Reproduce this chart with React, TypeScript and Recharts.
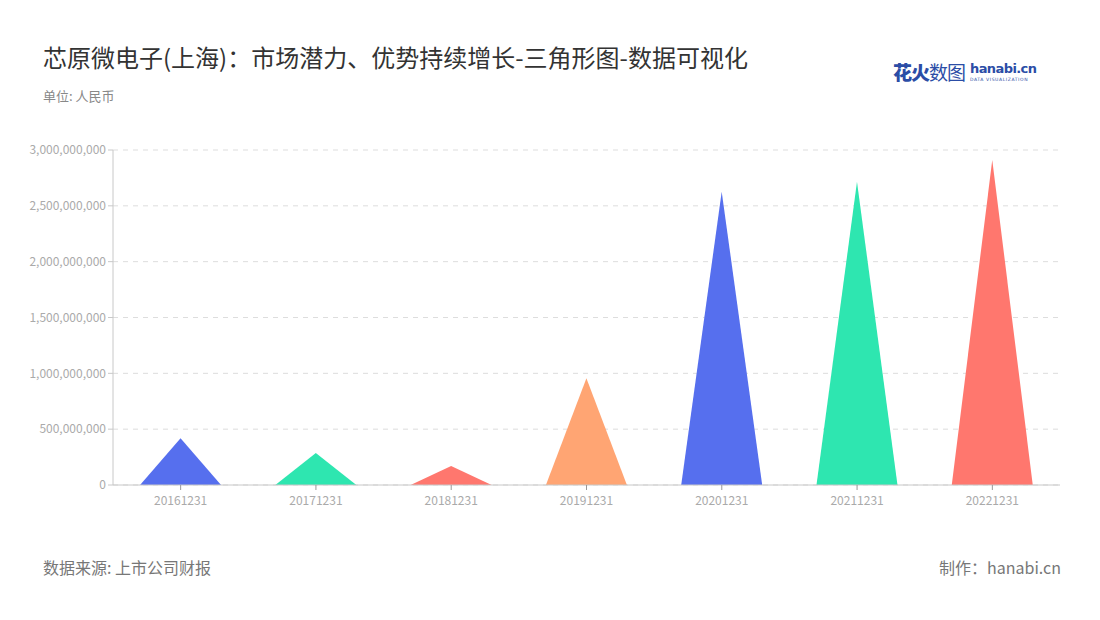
import React from "react";
import { BarChart, Bar, XAxis, YAxis, CartesianGrid, Cell } from "recharts";

const categories = ["20161231", "20171231", "20181231", "20191231", "20201231", "20211231", "20221231"];
const values = [418000000, 287000000, 170000000, 955000000, 2627000000, 2716000000, 2910000000];
const colors = ["#566FEE", "#2EE6B0", "#FF776E", "#FFA573", "#566FEE", "#2EE6B0", "#FF776E"];
const yTicks = [0, 500000000, 1000000000, 1500000000, 2000000000, 2500000000, 3000000000];

const data = categories.map((c, i) => ({ name: c, value: values[i] }));

const FONT = "'Noto Sans CJK SC', 'Noto Sans', sans-serif";

const Triangle = (props: any) => {
  const { x, y, width, height, fill } = props;
  if (height == null || height <= 0) return null;
  const d = `M${x},${y + height} L${x + width / 2},${y} L${x + width},${y + height} Z`;
  return <path d={d} fill={fill} stroke="none" />;
};

const fmt = (v: number) => v.toLocaleString("en-US");

export default function App() {
  return (
    <div style={{ position: "absolute", left: 0, top: 0, width: 1100, height: 620, background: "#fff", fontFamily: FONT }}>
      <div style={{ position: "absolute", left: 43, top: 40, fontSize: 24, color: "#333", whiteSpace: "nowrap", lineHeight: "34px" }}>
        芯原微电子(上海)：市场潜力、优势持续增长-三角形图-数据可视化
      </div>
      <div style={{ position: "absolute", left: 43, top: 86, fontSize: 13, color: "#888", whiteSpace: "nowrap", lineHeight: "20px" }}>
        单位: 人民币
      </div>
      <div style={{ position: "absolute", left: 893, top: 59, whiteSpace: "nowrap", display: "flex", alignItems: "center" }}>
        <span style={{ fontSize: 19, color: "#2B4DA6", letterSpacing: -1, lineHeight: "26px" }}>
          <span style={{ fontWeight: 900 }}>花火</span>
          <span style={{ fontWeight: 400 }}>数图</span>
        </span>
        <span style={{ display: "inline-flex", flexDirection: "column", marginLeft: 5 }}>
          <span style={{ fontSize: 13, fontWeight: 700, color: "#2B4DA6", lineHeight: "14px", fontFamily: "'DejaVu Sans', sans-serif", letterSpacing: -0.6 }}>hanabi.cn</span>
          <span style={{ fontSize: 4.5, color: "#2B4DA6", lineHeight: "7px", letterSpacing: 0.6, fontFamily: "'DejaVu Sans', sans-serif" }}>DATA VISUALIZATION</span>
        </span>
      </div>
      <div style={{ position: "absolute", left: 0, top: 0 }}>
        <BarChart
          width={1100}
          height={620}
          data={data}
          margin={{ top: 150, right: 40, bottom: 105, left: 0 }}
          barCategoryGap="20%"
        >
          <CartesianGrid vertical={false} stroke="#dddddd" strokeDasharray="5 5" />
          <XAxis
            dataKey="name"
            axisLine={{ stroke: "#c8c8c8" }}
            tickLine={{ stroke: "#999" }}
            tick={{ fill: "#aaaaaa", fontSize: 12, fontFamily: FONT }}
            tickSize={5}
            tickMargin={6}
            height={30}
          />
          <YAxis
            width={113}
            domain={[0, 3000000000]}
            ticks={yTicks}
            tickFormatter={fmt}
            axisLine={{ stroke: "#c8c8c8" }}
            tickLine={{ stroke: "#c8c8c8" }}
            tick={{ fill: "#aaaaaa", fontSize: 12, fontFamily: FONT }}
            tickSize={5}
          />
          <Bar dataKey="value" shape={<Triangle />} isAnimationActive={false}>
            {data.map((d, i) => (
              <Cell key={d.name} fill={colors[i]} />
            ))}
          </Bar>
        </BarChart>
      </div>
      <div style={{ position: "absolute", left: 43, top: 555, fontSize: 16, color: "#777", whiteSpace: "nowrap", lineHeight: "24px" }}>
        数据来源: 上市公司财报
      </div>
      <div style={{ position: "absolute", right: 39, top: 555, fontSize: 16, color: "#777", whiteSpace: "nowrap", lineHeight: "24px" }}>
        制作：hanabi.cn
      </div>
    </div>
  );
}
